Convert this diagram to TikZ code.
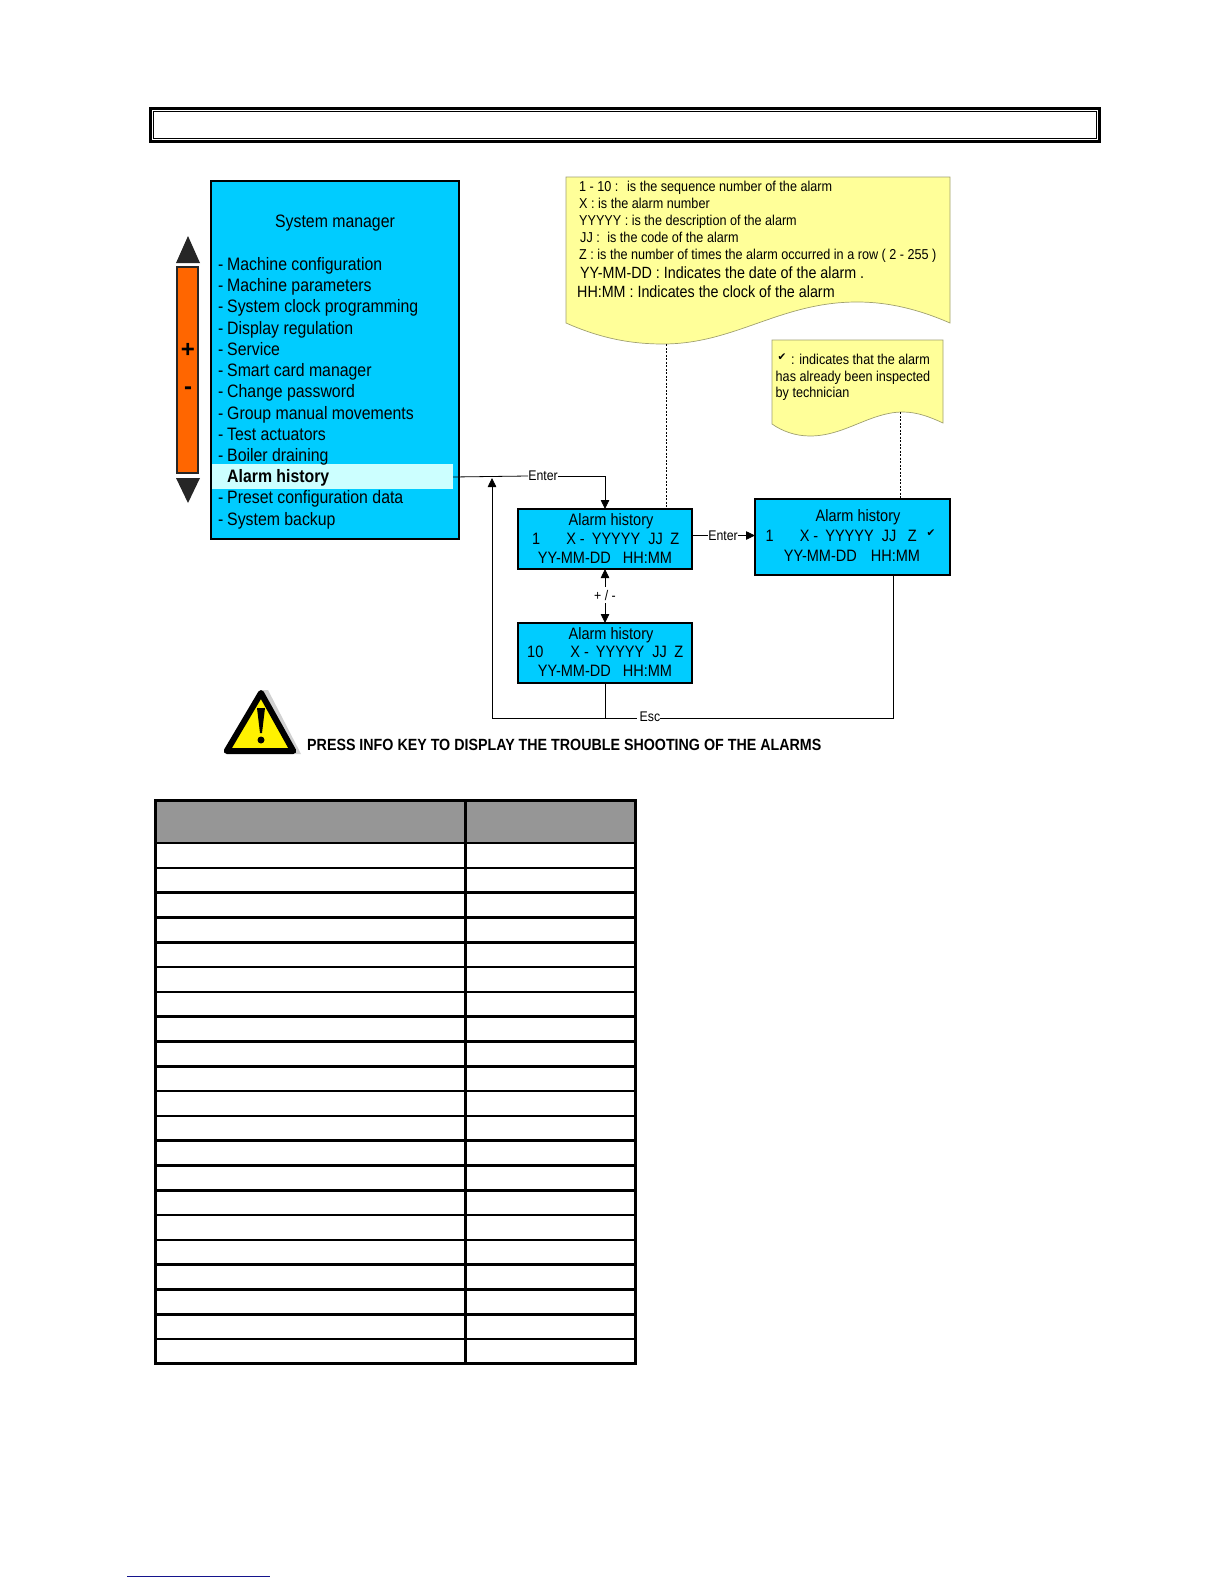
\documentclass[tikz,border=0pt]{standalone}
\usepackage{fontspec}
\setmainfont{Liberation Sans}
\newfontfamily\nar{Liberation Sans}[FakeStretch=0.88]
\newfontfamily\dv{DejaVu Sans}
\usetikzlibrary{arrows.meta,calc}
\definecolor{lcdblue}{HTML}{00CCFF}
\definecolor{barorange}{HTML}{FF6600}
\definecolor{noteyellow}{HTML}{FFFF99}
\definecolor{noteedge}{HTML}{A0A070}
\definecolor{hilite}{HTML}{CCFFFF}
\definecolor{headgray}{HTML}{969696}
\definecolor{linknavy}{HTML}{14148C}
\newcommand{\fs}[1]{\fontsize{#1}{#1}\selectfont}
\tikzset{
  x=1pt,y=-1pt,
  lcd/.style={draw=black,fill=lcdblue,line width=1.8pt,inner sep=0pt,outer sep=0pt},
  menuitem/.style={anchor=base west,inner sep=0pt,font=\nar\fs{18}},
  lcdtext/.style={inner sep=0pt,anchor=base,font=\nar\fs{16.5}},
  lcdrow/.style={inner sep=0pt,anchor=base west,font=\nar\fs{16.5}},
  notetext/.style={anchor=base west,inner sep=0pt,font=\nar\fs{#1}},
  notepaper/.style={draw=noteedge,fill=noteyellow,line width=0.7pt},
  link/.style={draw=black,line width=0.8pt},
  dotlink/.style={draw=black,line width=1pt,dash pattern=on 2pt off 1.5pt},
  tip/.style={-{Triangle[length=9pt,width=8.5pt]}},
  linklabel/.style={inner xsep=0pt,inner ysep=3pt,font=\nar\fs{14}},
  tablerule/.style={draw=black,line width=2.6pt}
}
\begin{document}
\begin{tikzpicture}
\useasboundingbox (0,0) rectangle (1224,1584);
% title frame
\draw[line width=2.6pt] (150.5,108.5) rectangle (1099.5,141.5);
\draw[line width=1pt] (153.5,111.5) rectangle (1096.5,138.5);
% menu
\node[lcd,minimum width=248pt,minimum height=358pt] (menu) at (335,360) {};
\node[fill=hilite,inner sep=0pt,minimum width=241pt,minimum height=25pt] (hl) at (332.5,476.5) {};
\node[inner sep=0pt,anchor=base,font=\nar\fs{18}] (menutitle) at (335,227) {System manager};
\foreach \n/\y/\t in {a/270/Machine configuration,b/291.5/Machine parameters,c/312.7/System clock programming,d/334/Display regulation,e/355/Service,f/376/Smart card manager,g/397.5/Change password,h/419/Group manual movements,i/440/Test actuators,j/461.5/Boiler draining,l/503.3/Preset configuration data,m/525/System backup}{
  \node[menuitem] (dash\n) at (218,\y) {-};
  \node[menuitem] (item\n) at (227,\y) {\t};
}
\node[menuitem,font=\nar\bfseries\fs{18}] (itemk) at (227,482.7) {Alarm history};
% scroll bar
\fill[black!85] (188,236) -- (200,263) -- (176,263) -- cycle;
\fill[black!85] (188,503) -- (200,478) -- (176,478) -- cycle;
\draw[fill=barorange,line width=1.5pt,draw=black!85] (177,267) rectangle (198,473);
\node[inner sep=0pt,font=\fs{24}\bfseries] (plus) at (188,350) {+};
\node[inner sep=0pt,font=\fs{24}\bfseries] (minus) at (188,391) {-};
% notes
\path[notepaper] (566,177) -- (950,177) -- (950,323) .. controls (920,310) and (890,302) .. (857,302)
  .. controls (780,302) and (735,344) .. (663,344) .. controls (630,344) and (600,338) .. (566,323) -- cycle;
\coordinate (doc1low) at (666,344);
\node[notetext=14.35] (n1) at (579,191.7) {1 - 10 :\hspace{4pt} is the sequence number of the alarm};
\node[notetext=14.35] (n2) at (579,208) {X : is the alarm number};
\node[notetext=14.35] (n3) at (579,225.7) {YYYYY : is the description of the alarm};
\node[notetext=14.35] (n4) at (580,242.7) {JJ :\hspace{4pt} is the code of the alarm};
\node[notetext=14.35] (n5) at (579,259) {Z : is the number of times the alarm occurred in a row ( 2 - 255 )};
\node[notetext=16.25] (n6) at (580,278.3) {YY-MM-DD : Indicates the date of the alarm .};
\node[notetext=16.25] (n7) at (577,297.3) {HH:MM : Indicates the clock of the alarm};
\path[notepaper] (772,340) -- (943,340) -- (943,423) .. controls (930,417) and (917,412) .. (903,412)
  .. controls (870,412) and (845,436) .. (810,436) .. controls (795,436) and (782,431) .. (772,424) -- cycle;
\coordinate (doc2high) at (900,412);
\node[inner sep=0pt,font=\dv\fs{10.5}] (chk1) at (782,357) {✔};
\node[notetext=14.35] (n8) at (791,364) {: indicates that the alarm};
\node[notetext=14.35] (n9) at (775.5,381.7) {has already been inspected};
\node[notetext=14.35] (n10) at (775.5,397.3) {by technician};
% lcd boxes
\node[lcd,minimum width=174pt,minimum height=60pt] (box1) at (605,539) {};
\node[lcd,minimum width=174pt,minimum height=60pt] (box2) at (605,653) {};
\node[lcd,minimum width=195pt,minimum height=76pt] (box3) at (852.5,537) {};
\node[lcdtext] (b1a) at (611,525) {Alarm history};
\node[lcdrow] (b1b) at (532,544) {1\hspace{26pt}X -\hspace{7pt}YYYYY\hspace{8pt}JJ\hspace{7.5pt}Z};
\node[lcdtext] (b1c) at (605,563.3) {YY-MM-DD\hspace{12pt}HH:MM};
\node[lcdtext] (b2a) at (611,639) {Alarm history};
\node[lcdrow] (b2b) at (527,657.7) {10\hspace{27pt}X -\hspace{7pt}YYYYY\hspace{8pt}JJ\hspace{7.5pt}Z};
\node[lcdtext] (b2c) at (605,676.7) {YY-MM-DD\hspace{12pt}HH:MM};
\node[lcdtext] (b3a) at (858,521.7) {Alarm history};
\node[lcdrow] (b3b) at (765.5,541.7) {1\hspace{26pt}X -\hspace{7pt}YYYYY\hspace{8pt}JJ\hspace{11.5pt}Z};
\node[lcdtext] (b3c) at (852,561.7) {YY-MM-DD\hspace{14pt}HH:MM};
\node[inner sep=0pt,font=\dv\fs{10.5}] (chk2) at (931,533) {✔};
% connectors
\draw[dotlink] (doc1low) -- (doc1low |- box1.north);
\draw[dotlink] (doc2high) -- (doc2high |- box3.north);
\node[linklabel] (enter1) at (543,476) {Enter};
\node[linklabel] (enter2) at (723,535.5) {Enter};
\node[linklabel] (pm) at (605,595) {+ / -};
\node[linklabel] (esc) at (650,717) {Esc};
\coordinate (hlout) at (453,477);
\draw[link] (hlout) -- (enter1.west);
\draw[link,tip] (enter1.east) -| (box1.north);
\draw[link] (box1.east |- enter2) -- (enter2.west);
\draw[link,tip] (enter2.east) -- (box3.west |- enter2);
\draw[link,tip] (pm.north) -- (box1.south);
\draw[link,tip] (pm.south) -- (box2.north);
\coordinate (escleft) at (492,718);
\coordinate (uptip) at (492,478);
\coordinate (escright) at (893,718);
\coordinate (box3out) at (893,575);
\draw[link,tip] ($(esc.west)+(-3,1)$) -- (escleft) -- (uptip);
\draw[link] ($(esc.east)+(0,1)$) -- (escright) -- (box3out);
\draw[link] (box2.south) -- (box2.south |- escleft);
% warning
\fill[black!18] (268,690) -- (301,754) -- (294,754) -- (262,690) -- cycle;
\draw[fill=yellow,draw=black,line width=6pt,line join=round] (261,693) -- (293.3,751) -- (226.7,751) -- cycle;
\fill[black] (257,708) -- (265,708) -- (262,733) -- (260,733) -- cycle;
\fill[black] (261,740) circle (3.5);
\node[anchor=base west,inner sep=0pt,font=\nar\bfseries\fs{16.2}] (press) at (307,750.5) {PRESS INFO KEY TO DISPLAY THE TROUBLE SHOOTING OF THE ALARMS};
% table
\fill[headgray] (156,801) rectangle (635,842);
\foreach \r in {0,...,19}{
  \draw[tablerule] (155,{843+24.8*(\r+1)}) -- (636,{843+24.8*(\r+1)});
}
\draw[tablerule] (155,843) -- (636,843);
\draw[tablerule] (465.5,800) -- (465.5,1364);
\draw[tablerule] (155.5,800.5) rectangle (635.5,1363.5);
% bottom rule
\draw[draw=linknavy,line width=1pt] (127,1576) -- (270,1576);
\end{tikzpicture}
\end{document}
